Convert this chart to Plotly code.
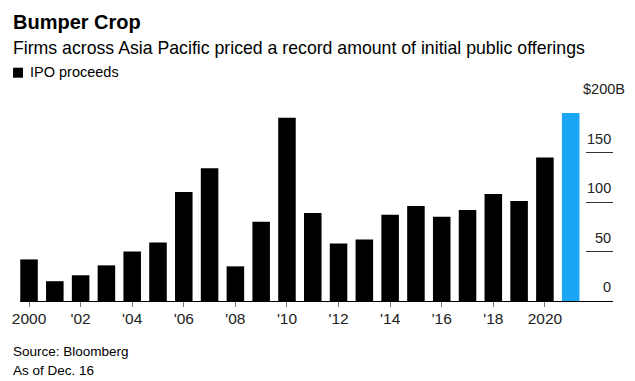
import plotly.graph_objects as go

years = list(range(2000, 2022))
ipo_proceeds = [42, 20, 26, 36, 50, 59, 110, 134, 35, 80, 185, 89,
                58, 62, 87, 96, 85, 92, 108, 101, 145, 190]
bar_colors = ["#000000"] * 21 + ["#1ba6f5"]

x_tick_vals = list(range(2000, 2021, 2))
x_tick_text = ["2000", "'02", "'04", "'06", "'08", "'10", "'12", "'14", "'16", "'18", "2020"]
y_tick_vals = [0, 50, 100, 150, 200]
y_tick_text = ["0", "50", "100", "150", "$200B"]

FONT = "Liberation Sans, Arial, Helvetica, sans-serif"

W, H = 635, 381
ML, MR, MT, MB = 16, 22, 103, 80
PW = W - ML - MR
PH = H - MT - MB


def px_x(px):
    return (px - ML) / PW


def px_y(py):
    return (H - MB - py) / PH


fig = go.Figure()
fig.add_trace(go.Bar(
    x=years, y=ipo_proceeds, marker=dict(color=bar_colors, line=dict(width=0)),
    name="IPO proceeds", showlegend=False, hoverinfo="x+y"
))

annotations = [
    dict(text="<b>Bumper Crop</b>", x=px_x(7), y=px_y(22), xref="paper", yref="paper",
         xanchor="left", yanchor="middle", showarrow=False,
         font=dict(family=FONT, size=20, color="#000000")),
    dict(text="Firms across Asia Pacific priced a record amount of initial public offerings",
         x=px_x(7), y=px_y(48), xref="paper", yref="paper",
         xanchor="left", yanchor="middle", showarrow=False,
         font=dict(family=FONT, size=17.7, color="#000000")),
    dict(text="IPO proceeds", x=px_x(24), y=px_y(72), xref="paper", yref="paper",
         xanchor="left", yanchor="middle", showarrow=False,
         font=dict(family=FONT, size=14.5, color="#000000")),
    dict(text="Source: Bloomberg", x=px_x(7), y=px_y(351.7), xref="paper", yref="paper",
         xanchor="left", yanchor="middle", showarrow=False,
         font=dict(family=FONT, size=13.5, color="#000000")),
    dict(text="As of Dec. 16", x=px_x(7), y=px_y(370), xref="paper", yref="paper",
         xanchor="left", yanchor="middle", showarrow=False,
         font=dict(family=FONT, size=13.5, color="#000000")),
]

for v, t in zip(y_tick_vals, y_tick_text):
    annotations.append(dict(
        text=t, x=1, y=v, xref="paper", yref="y", xanchor="right", yanchor="middle",
        xshift=13.5 if t.endswith("B") else 0, yshift=13.7, showarrow=False,
        font=dict(family=FONT, size=14.5, color="#222222")))

shapes = [dict(type="rect", xref="paper", yref="paper",
               x0=px_x(9), x1=px_x(19), y0=px_y(77.7), y1=px_y(67.7),
               fillcolor="#000000", line=dict(width=0))]

fig.update_layout(
    width=W, height=H,
    margin=dict(l=ML, r=MR, t=MT, b=MB, pad=0),
    paper_bgcolor="#ffffff", plot_bgcolor="#ffffff",
    bargap=0.32,
    font=dict(family=FONT, color="#222222"),
    annotations=annotations, shapes=shapes,
    xaxis=dict(range=[1999.65, 2022.64], tickmode="array", tickvals=x_tick_vals,
               ticktext=x_tick_text, ticks="outside", ticklen=5, tickwidth=1,
               tickcolor="#777777", showline=True, linecolor="#000000", linewidth=1,
               showgrid=False, zeroline=False, fixedrange=True, ticklabelstandoff=-2,
               tickfont=dict(family=FONT, size=15.5, color="#222222")),
    yaxis=dict(range=[0, 200], side="right", tickmode="array", tickvals=y_tick_vals,
               ticks="inside", ticklen=27, tickwidth=1, tickcolor="#333333",
               showticklabels=False, showgrid=False, zeroline=False, showline=False,
               fixedrange=True),
)

fig.write_html(
    "out.html",
    config={"displayModeBar": False},
    post_script="document.body.style.margin='0';document.body.style.padding='0';",
)
